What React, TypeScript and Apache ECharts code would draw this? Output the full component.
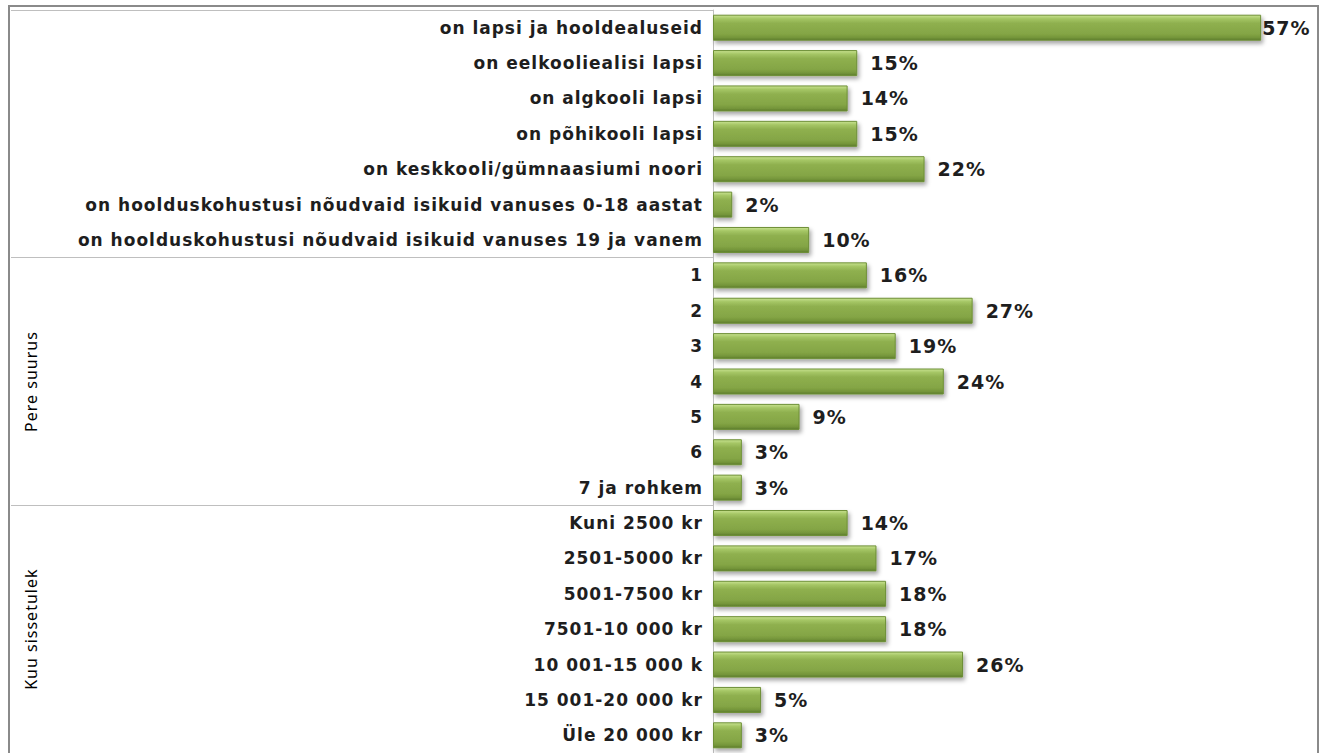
import React, { useEffect, useRef } from "react";
import * as echarts from "echarts";

const categories = [
  "on lapsi ja hooldealuseid",
  "on eelkooliealisi lapsi",
  "on algkooli lapsi",
  "on põhikooli lapsi",
  "on keskkooli/gümnaasiumi noori",
  "on hoolduskohustusi nõudvaid isikuid vanuses 0-18 aastat",
  "on hoolduskohustusi nõudvaid isikuid vanuses 19 ja vanem",
  "1",
  "2",
  "3",
  "4",
  "5",
  "6",
  "7 ja rohkem",
  "Kuni 2500 kr",
  "2501-5000 kr",
  "5001-7500 kr",
  "7501-10 000 kr",
  "10 001-15 000 k",
  "15 001-20 000 kr",
  "Üle 20 000 kr",
];

const values = [57, 15, 14, 15, 22, 2, 10, 16, 27, 19, 24, 9, 3, 3, 14, 17, 18, 18, 26, 5, 3];

const groups = ["", "Pere suurus", "Kuu sissetulek"];

export default function App() {
  const ref = useRef<HTMLDivElement>(null);

  useEffect(() => {
    if (!ref.current) return;
    const chart = echarts.init(ref.current, undefined, { renderer: "svg" });

    const barColor = new echarts.graphic.LinearGradient(0, 0, 0, 1, [
      { offset: 0, color: "#c8e290" },
      { offset: 0.14, color: "#a5c665" },
      { offset: 0.32, color: "#8fb04f" },
      { offset: 0.75, color: "#84a545" },
      { offset: 0.9, color: "#74953a" },
      { offset: 1, color: "#5c7b2b" },
    ]);

    const data = values.map((v, i) => ({
      value: v,
      label: i === 0 ? { distance: 1 } : undefined,
    }));

    chart.setOption({
      animation: false,
      grid: { left: 713, top: 10, width: 577, height: 745, containLabel: false },
      xAxis: {
        type: "value",
        min: 0,
        max: 60,
        show: false,
      },
      yAxis: [
        {
          type: "category",
          data: categories,
          inverse: true,
          position: "left",
          axisLine: { show: true, lineStyle: { color: "#bfbfbf", width: 1 } },
          axisTick: { show: false },
          axisLabel: {
            margin: 10,
            fontFamily: "DejaVu Sans",
            fontWeight: "bold",
            fontSize: 17,
            color: "#1e1e1e",
          },
        },
        {
          type: "category",
          data: groups,
          inverse: true,
          position: "left",
          axisLine: { show: false },
          axisTick: { show: true, length: 702, lineStyle: { color: "#bfbfbf", width: 1 } },
          axisLabel: {
            rotate: 90,
            margin: 674,
            fontFamily: "Noto Sans",
            fontSize: 16,
            color: "#000",
          },
        },
      ],
      series: [
        {
          type: "bar",
          yAxisIndex: 0,
          data,
          barWidth: 26,
          itemStyle: {
            color: barColor,
            borderColor: "#6d8f36",
            borderWidth: 1,
            shadowColor: "rgba(0,0,0,0.35)",
            shadowBlur: 4,
            shadowOffsetX: 2,
            shadowOffsetY: 3,
          },
          label: {
            show: true,
            position: "right",
            distance: 13,
            formatter: "{c}%",
            fontFamily: "DejaVu Sans",
            fontWeight: "bold",
            fontSize: 19,
            color: "#1e1e1e",
          },
        },
      ],
      graphic: [
        {
          type: "rect",
          z: 100,
          silent: true,
          shape: { x: 9, y: 6, width: 1309, height: 800 },
          style: { fill: "none", stroke: "#8a8a8a", lineWidth: 2 },
        },
      ],
    });

    return () => chart.dispose();
  }, []);

  return (
    <div
      ref={ref}
      style={{
        position: "absolute",
        left: 0,
        top: 0,
        width: 1326,
        height: 753,
        background: "#fff",
        letterSpacing: "1px",
      }}
    />
  );
}
